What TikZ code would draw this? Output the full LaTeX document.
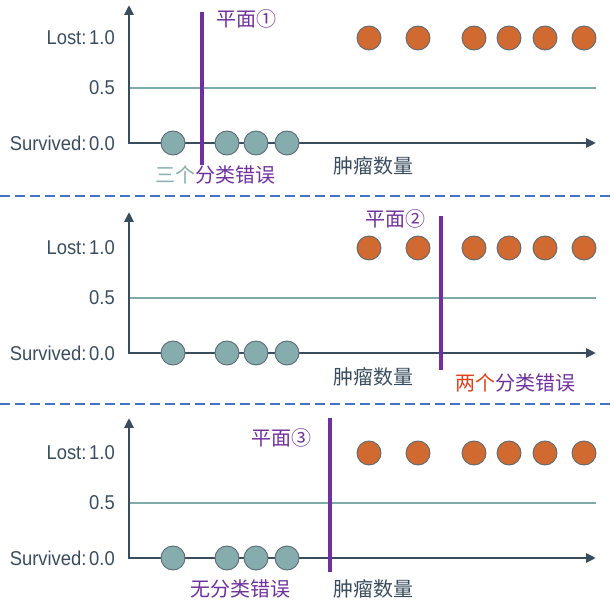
\documentclass[tikz,border=0pt]{standalone}
\usepackage{fontspec}
\setmainfont{Liberation Sans}
\newfontfamily\cjk{Noto Sans CJK SC}
\usetikzlibrary{arrows.meta}
\definecolor{axisc}{HTML}{3A4D5F}
\definecolor{tealc}{HTML}{86ADAD}
\definecolor{halfc}{HTML}{7FAAAA}
\definecolor{orangec}{HTML}{D06A30}
\definecolor{borderc}{HTML}{5C6A76}
\definecolor{purplec}{HTML}{7030A0}
\definecolor{sepc}{HTML}{4472C4}
\definecolor{redc}{HTML}{E0401A}
\definecolor{tealtext}{HTML}{86B0AE}
\newcommand{\narrowtxt}[1]{\scalebox{0.92}[1]{#1}}
\tikzset{
  axisline/.style={draw=axisc, line width=2.8pt, line join=miter,
     arrows={Triangle[length=10pt,width=9pt]-Triangle[length=10pt,width=9pt]}},
  halfline/.style={draw=halfc, line width=1.6pt},
  tdot/.style={circle, minimum size=24pt, inner sep=0pt, fill=tealc, draw=borderc, line width=0.9pt},
  odot/.style={circle, minimum size=24pt, inner sep=0pt, fill=orangec, draw=borderc, line width=0.9pt},
  plane/.style={draw=purplec, line width=4pt},
  seprule/.style={draw=sepc, line width=2.5pt, dash pattern=on 10pt off 5pt},
  lab/.style={text=axisc, font=\fontsize{20}{22}\selectfont, inner sep=0pt, anchor=east},
  cjklab/.style={font=\cjk\fontsize{20}{22}\selectfont, inner sep=0pt},
}
\begin{document}
\begin{tikzpicture}[x=1pt,y=-1pt]
\useasboundingbox (0,0) rectangle (614,604);
\foreach \p/\b/\t in {1/143/5, 2/353/212, 3/558/418} {
  \coordinate (ytop\p) at (129,\t);
  \coordinate (org\p) at (129,\b);
  \coordinate (xend\p) at (596,\b);
  \coordinate (hl\p) at (129,\b-55);
  \coordinate (hr\p) at (596,\b-55);
  \draw[halfline] (hl\p) -- (hr\p);
  \draw[axisline] (ytop\p) -- (org\p) -- (xend\p);
  \node[lab] (lost\p) at (115,\b-105) {\narrowtxt{Lost:\kern3pt1.0}};
  \node[lab] (half\p) at (115,\b-55) {\narrowtxt{0.5}};
  \node[lab] (surv\p) at (115,\b) {\narrowtxt{Survived:\kern3pt0.0}};
  \foreach \i/\x in {1/173, 2/227, 3/256, 4/287}
    \node[tdot] (s\p-\i) at (\x,\b) {};
  \foreach \i/\x in {1/369, 2/418, 3/474, 4/509, 5/545, 6/584}
    \node[odot] (l\p-\i) at (\x,\b-105) {};
}
% separators
\coordinate (sepA1) at (0,196);
\coordinate (sepA2) at (614,196);
\coordinate (sepB1) at (0,404);
\coordinate (sepB2) at (614,404);
\draw[seprule] (sepA1) -- (sepA2);
\draw[seprule] (sepB1) -- (sepB2);
% planes
\coordinate (p1t) at (202,12);  \coordinate (p1b) at (202,165);
\coordinate (p2t) at (441,216); \coordinate (p2b) at (441,370);
\coordinate (p3t) at (330,418); \coordinate (p3b) at (330,572);
\draw[plane] (p1t) -- (p1b);
\draw[plane] (p2t) -- (p2b);
\draw[plane] (p3t) -- (p3b);
% labels panel 1
\node[cjklab, text=purplec, anchor=west] (pl1) at (216,19) {平面①};
\node[cjklab, anchor=west] (err1) at (155,175) {\textcolor{tealtext}{三个}\textcolor{purplec}{分类错误}};
\node[cjklab, text=axisc] (xl1) at (373,166) {肿瘤数量};
% labels panel 2
\node[cjklab, text=purplec, anchor=west] (pl2) at (365,219) {平面②};
\node[cjklab, anchor=west] (err2) at (455,383) {\textcolor{redc}{两个}\textcolor{purplec}{分类错误}};
\node[cjklab, text=axisc] (xl2) at (373,377) {肿瘤数量};
% labels panel 3
\node[cjklab, text=purplec, anchor=west] (pl3) at (251,438) {平面③};
\node[cjklab, text=purplec, anchor=west] (err3) at (190,589) {无分类错误};
\node[cjklab, text=axisc] (xl3) at (373,589) {肿瘤数量};
\end{tikzpicture}
\end{document}
